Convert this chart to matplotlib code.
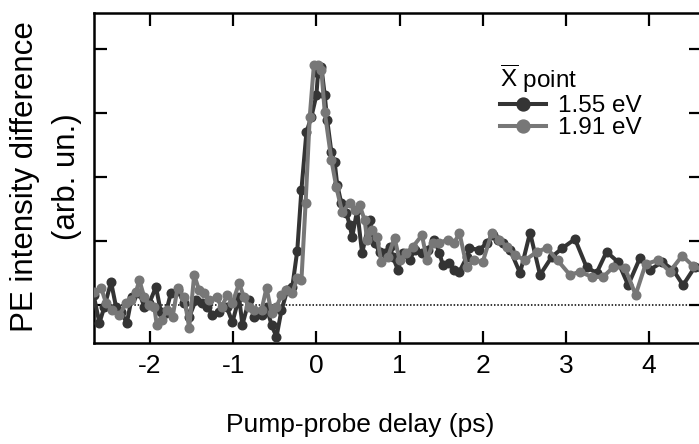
import matplotlib
matplotlib.use("Agg")
import matplotlib.pyplot as plt

plt.rcParams['font.family'] = ['Liberation Sans', 'DejaVu Sans']
plt.rcParams['mathtext.fontset'] = 'custom'
plt.rcParams['mathtext.rm'] = 'Liberation Sans'

# ---- data ----
delay_155 = [-2.68, -2.61, -2.55, -2.47, -2.41, -2.35, -2.28, -2.22, -2.13, -2.07,
             -2.01, -1.93, -1.87, -1.81, -1.75, -1.67, -1.59, -1.53, -1.45, -1.37,
             -1.31, -1.25, -1.17, -1.08, -1.01, -0.93, -0.89, -0.81, -0.75, -0.66,
             -0.60, -0.54, -0.48, -0.42, -0.35, -0.29, -0.23, -0.18, -0.12, -0.06,
             0.00, 0.02, 0.06, 0.10, 0.13, 0.18, 0.22, 0.25, 0.30, 0.36,
             0.40, 0.43, 0.49, 0.55, 0.64, 0.70, 0.76, 0.82, 0.88, 0.92,
             0.98, 1.04, 1.12, 1.18, 1.27, 1.34, 1.42, 1.48, 1.52, 1.60,
             1.66, 1.72, 1.81, 1.84, 1.96, 2.05, 2.12, 2.18, 2.24, 2.33,
             2.45, 2.57, 2.69, 2.83, 2.96, 3.11, 3.25, 3.37, 3.49, 3.63,
             3.75, 3.89, 4.01, 4.16, 4.29, 4.41, 4.55, 4.67]
signal_155 = [0.16, -0.28, -0.03, 0.36, -0.03, -0.11, -0.28, 0.12, 0.19, -0.03,
              0.03, 0.28, -0.11, -0.12, 0.19, 0.23, 0.03, -0.19, 0.08, 0.03,
              -0.03, -0.16, -0.11, -0.03, -0.27, 0.12, -0.31, 0.08, -0.19, -0.16,
              -0.03, -0.31, -0.50, -0.08, 0.23, 0.28, 0.85, 1.80, 2.70, 2.94,
              3.28, 3.63, 3.72, 3.28, 2.89, 2.39, 2.23, 1.88, 1.59, 1.44,
              1.25, 1.06, 1.48, 0.81, 1.33, 0.97, 0.83, 0.81, 0.91, 0.75,
              0.55, 0.81, 0.70, 0.86, 0.81, 0.86, 1.02, 0.81, 0.63, 0.66,
              0.55, 0.52, 0.75, 0.89, 0.86, 0.97, 1.09, 1.02, 0.97, 0.86,
              0.50, 1.13, 0.47, 0.75, 0.89, 1.03, 0.59, 0.50, 0.83, 0.67,
              0.31, 0.73, 0.55, 0.67, 0.55, 0.31, 0.59, 0.50]

delay_191 = [-2.67, -2.59, -2.53, -2.46, -2.37, -2.29, -2.23, -2.17, -2.13, -2.07,
             -2.01, -1.95, -1.92, -1.86, -1.80, -1.73, -1.67, -1.59, -1.53, -1.47,
             -1.41, -1.35, -1.29, -1.20, -1.14, -1.07, -1.01, -0.93, -0.87, -0.81,
             -0.75, -0.66, -0.60, -0.54, -0.48, -0.42, -0.36, -0.29, -0.23, -0.18,
             -0.13, -0.08, -0.03, 0.02, 0.06, 0.10, 0.18, 0.24, 0.31, 0.40,
             0.46, 0.52, 0.58, 0.61, 0.67, 0.73, 0.78, 0.86, 0.94, 1.00,
             1.08, 1.16, 1.27, 1.33, 1.40, 1.48, 1.58, 1.66, 1.72, 1.81,
             1.90, 2.00, 2.11, 2.20, 2.29, 2.39, 2.51, 2.65, 2.77, 2.90,
             3.05, 3.17, 3.31, 3.45, 3.57, 3.71, 3.84, 3.96, 4.11, 4.25,
             4.40, 4.53, 4.65]
signal_191 = [0.20, 0.27, 0.03, -0.08, -0.16, 0.03, 0.08, 0.20, 0.39, 0.12,
              0.00, -0.03, -0.31, -0.23, -0.08, -0.19, 0.27, 0.12, -0.36, 0.47,
              0.23, 0.19, 0.08, 0.12, -0.03, 0.16, 0.03, 0.34, 0.12, -0.03,
              -0.08, -0.08, 0.27, -0.12, -0.03, 0.16, 0.23, 0.19, 0.42, 0.39,
              1.59, 2.94, 3.75, 3.75, 3.67, 3.02, 2.27, 1.84, 1.45, 1.59,
              1.48, 1.56, 1.33, 1.02, 1.17, 1.06, 0.67, 0.75, 1.05, 0.70,
              0.81, 0.91, 1.09, 0.70, 0.97, 0.97, 1.02, 0.97, 1.13, 0.59,
              0.70, 0.67, 1.13, 1.02, 0.91, 0.78, 0.70, 0.83, 0.89, 0.70,
              0.47, 0.52, 0.44, 0.44, 0.59, 0.58, 0.16, 0.64, 0.70, 0.52,
              0.77, 0.61, 0.55]

x_ticks = [-2, -1, 0, 1, 2, 3, 4]
x_tick_labels = ['-2', '-1', '0', '1', '2', '3', '4']
y_ticks = [0, 1, 2, 3, 4]
series_labels = ['1.55 eV', '1.91 eV']
legend_title = r'$\overline{\mathrm{X}}$ point'

W, H = 699, 444
fig = plt.figure(figsize=(W / 100, H / 100), dpi=100)
ax = fig.add_axes([94 / W, 1 - 343 / H, (700.5 - 94) / W, (343 - 13) / H])

dark = '#343434'
light = '#777777'
ax.axhline(0, color='black', lw=1.1, ls=(0, (1, 1.2)), zorder=1)
ax.plot(delay_155, signal_155, '-o', color=dark, lw=2.9, ms=6.2, label=series_labels[0], zorder=3)
ax.plot(delay_191, signal_191, '-o', color=light, lw=2.9, ms=6.2, label=series_labels[1], zorder=4)

ax.set_xlim(-2.675, 4.62)
ax.set_ylim(-0.594, 4.5625)
ax.set_xticks(x_ticks)
ax.set_xticklabels(x_tick_labels)
ax.set_yticks(y_ticks)
ax.tick_params(axis='both', direction='in', length=9, width=1.6, top=True, right=True,
               labelsize=19, pad=8)
ax.tick_params(axis='y', labelleft=False)
for s in ax.spines.values():
    s.set_linewidth(1.8)

ax.set_xlabel('Pump-probe delay (ps)', fontsize=19)
ax.xaxis.set_label_coords((360 - 94) / (700.5 - 94), -(425 - 343) / (343 - 13), transform=ax.transAxes)
ax.xaxis.label.set_va('center')
fig.text(25 / W, 1 - 177 / H, 'PE intensity difference', rotation=90, ha='center', va='center', fontsize=22.5)
fig.text(67 / W, 1 - 177 / H, '(arb. un.)', rotation=90, ha='center', va='center', fontsize=22.5)

leg = ax.legend(title=legend_title, loc='upper left', bbox_to_anchor=(500 / W, 1 - 63 / H),
                bbox_transform=fig.transFigure, frameon=False, fontsize=17.5, title_fontsize=17.5,
                alignment='left', borderpad=0, labelspacing=0.0, handlelength=1.9,
                handletextpad=0.5, markerscale=1.5, borderaxespad=0)

fig.savefig('out.png', dpi=100)
